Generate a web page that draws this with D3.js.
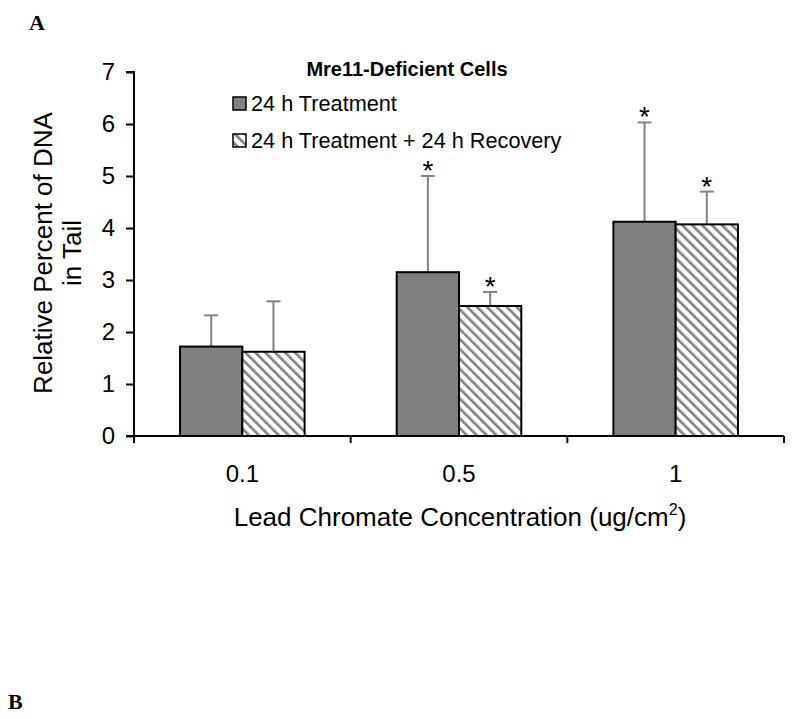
<!DOCTYPE html>
<html><head><meta charset="utf-8">
<script src="https://cdn.jsdelivr.net/npm/d3@7"></script>
<style>body{margin:0;background:#fff}</style>
</head><body>
<script>
const categories = ["0.1", "0.5", "1"];
const seriesNames = ["24 h Treatment", "24 h Treatment + 24 h Recovery"];
const treatment = [1.72, 3.15, 4.12];
const treatmentErr = [0.60, 1.85, 1.91];
const recovery = [1.62, 2.50, 4.07];
const recoveryErr = [0.97, 0.27, 0.63];
const treatmentSig = [false, true, true];
const recoverySig = [false, true, true];
const yTicks = [0, 1, 2, 3, 4, 5, 6, 7];

const W = 800, H = 719;
const svg = d3.select("body").append("svg").attr("width", W).attr("height", H)
  .style("font-family", "'Liberation Sans', Arial, sans-serif");

const defs = svg.append("defs");
const pat = defs.append("pattern").attr("id", "hatch").attr("patternUnits", "userSpaceOnUse")
  .attr("width", 7).attr("height", 7).attr("patternTransform", "rotate(-45)");
pat.append("rect").attr("width", 7).attr("height", 7).attr("fill", "#fff");
pat.append("rect").attr("x", 0).attr("y", 0).attr("width", 2.6).attr("height", 7).attr("fill", "#808080");

const m = {left: 134, right: 784, top: 72, bottom: 436};
const x = d3.scaleBand().domain(categories).range([m.left, m.right]).paddingInner(0.425).paddingOuter(0.2125);
const y = d3.scaleLinear().domain([0, 7]).range([m.bottom, m.top]);
const bw = x.bandwidth() / 2;

const data = categories.map((c, i) => ({c,
  vals: [
    {s: 0, v: treatment[i], e: treatmentErr[i], sig: treatmentSig[i]},
    {s: 1, v: recovery[i], e: recoveryErr[i], sig: recoverySig[i]}
  ]}));

const g = svg.append("g");
data.forEach(d => {
  d.vals.forEach(v => {
    const cx = x(d.c) + bw * v.s + bw / 2;
    g.append("line").attr("x1", cx).attr("x2", cx).attr("y1", y(v.v)).attr("y2", y(v.v + v.e))
      .attr("stroke", "#808080").attr("stroke-width", 2);
    g.append("line").attr("x1", cx - 7).attr("x2", cx + 7).attr("y1", y(v.v + v.e)).attr("y2", y(v.v + v.e))
      .attr("stroke", "#808080").attr("stroke-width", 2);
    if (v.sig) {
      g.append("text").attr("x", cx).attr("y", y(v.v + v.e) + 4).attr("text-anchor", "middle")
        .attr("font-size", 28).attr("fill", "#000").text("*");
    }
  });
});

data.forEach(d => {
  d.vals.forEach(v => {
    g.append("rect").attr("x", x(d.c) + bw * v.s).attr("y", y(v.v))
      .attr("width", bw).attr("height", y(0) - y(v.v))
      .attr("fill", v.s === 0 ? "#808080" : "url(#hatch)")
      .attr("stroke", "#000").attr("stroke-width", 2);
  });
});

// Y axis
const ya = svg.append("g").attr("transform", `translate(${m.left},0)`)
  .call(d3.axisLeft(y).tickValues(yTicks).tickFormat(d3.format("d")).tickSize(8).tickPadding(11));
ya.select(".domain").attr("stroke", "#000").attr("stroke-width", 2).attr("d", `M-8,${y(7)}H0V${y(0)}H-8`);
ya.selectAll(".tick line").attr("stroke", "#000").attr("stroke-width", 2);
ya.selectAll(".tick text").attr("font-size", 24).attr("fill", "#000").attr("font-family", "'Liberation Sans', Arial, sans-serif");

// X axis
const xa = svg.append("g").attr("transform", `translate(0,${m.bottom})`);
xa.append("line").attr("x1", m.left).attr("x2", m.right).attr("stroke", "#000").attr("stroke-width", 2);
const step = x.step();
const boundaries = d3.range(categories.length + 1).map(i => m.left + i * step);
xa.selectAll(".bt").data(boundaries).enter().append("line")
  .attr("x1", d => d).attr("x2", d => d).attr("y1", 0).attr("y2", 7)
  .attr("stroke", "#000").attr("stroke-width", 2);
xa.selectAll(".lbl").data(categories).enter().append("text")
  .attr("x", d => x(d) + x.bandwidth() / 2).attr("y", 46).attr("text-anchor", "middle")
  .attr("font-size", 24).attr("fill", "#000").text(d => d);

// Axis titles
const xt = svg.append("text").attr("x", 460).attr("y", 526).attr("text-anchor", "middle")
  .attr("font-size", 26).attr("fill", "#000");
xt.append("tspan").text("Lead Chromate Concentration (ug/cm");
xt.append("tspan").attr("font-size", 16).attr("dy", -11).text("2");
xt.append("tspan").attr("dy", 11).text(")");

const yt = svg.append("text").attr("transform", "translate(0,253) rotate(-90)")
  .attr("text-anchor", "middle").attr("font-size", 26).attr("fill", "#000");
yt.append("tspan").attr("x", 0).attr("y", 52).text("Relative Percent of DNA");
yt.append("tspan").attr("x", 0).attr("y", 81).text("in Tail");

// Legend
svg.append("text").attr("x", 407).attr("y", 76).attr("text-anchor", "middle")
  .attr("font-size", 20).attr("font-weight", "bold").attr("fill", "#000").text("Mre11-Deficient Cells");
seriesNames.forEach((n, i) => {
  const ly = 97 + i * 37;
  svg.append("rect").attr("x", 233).attr("y", ly).attr("width", 13).attr("height", 13)
    .attr("fill", i === 0 ? "#808080" : "url(#hatch)").attr("stroke", "#000").attr("stroke-width", 1.5);
  svg.append("text").attr("x", 251).attr("y", ly + 14).attr("font-size", 21.7).attr("fill", "#000").text(n);
});

// Panel labels
svg.append("text").attr("x", 29).attr("y", 30).attr("font-family", "'Liberation Serif', 'Times New Roman', serif")
  .attr("font-weight", "bold").attr("font-size", 22).attr("fill", "#000").text("A");
svg.append("text").attr("x", 8).attr("y", 709).attr("font-family", "'Liberation Serif', 'Times New Roman', serif")
  .attr("font-weight", "bold").attr("font-size", 22).attr("fill", "#000").text("B");
</script>
</body></html>
